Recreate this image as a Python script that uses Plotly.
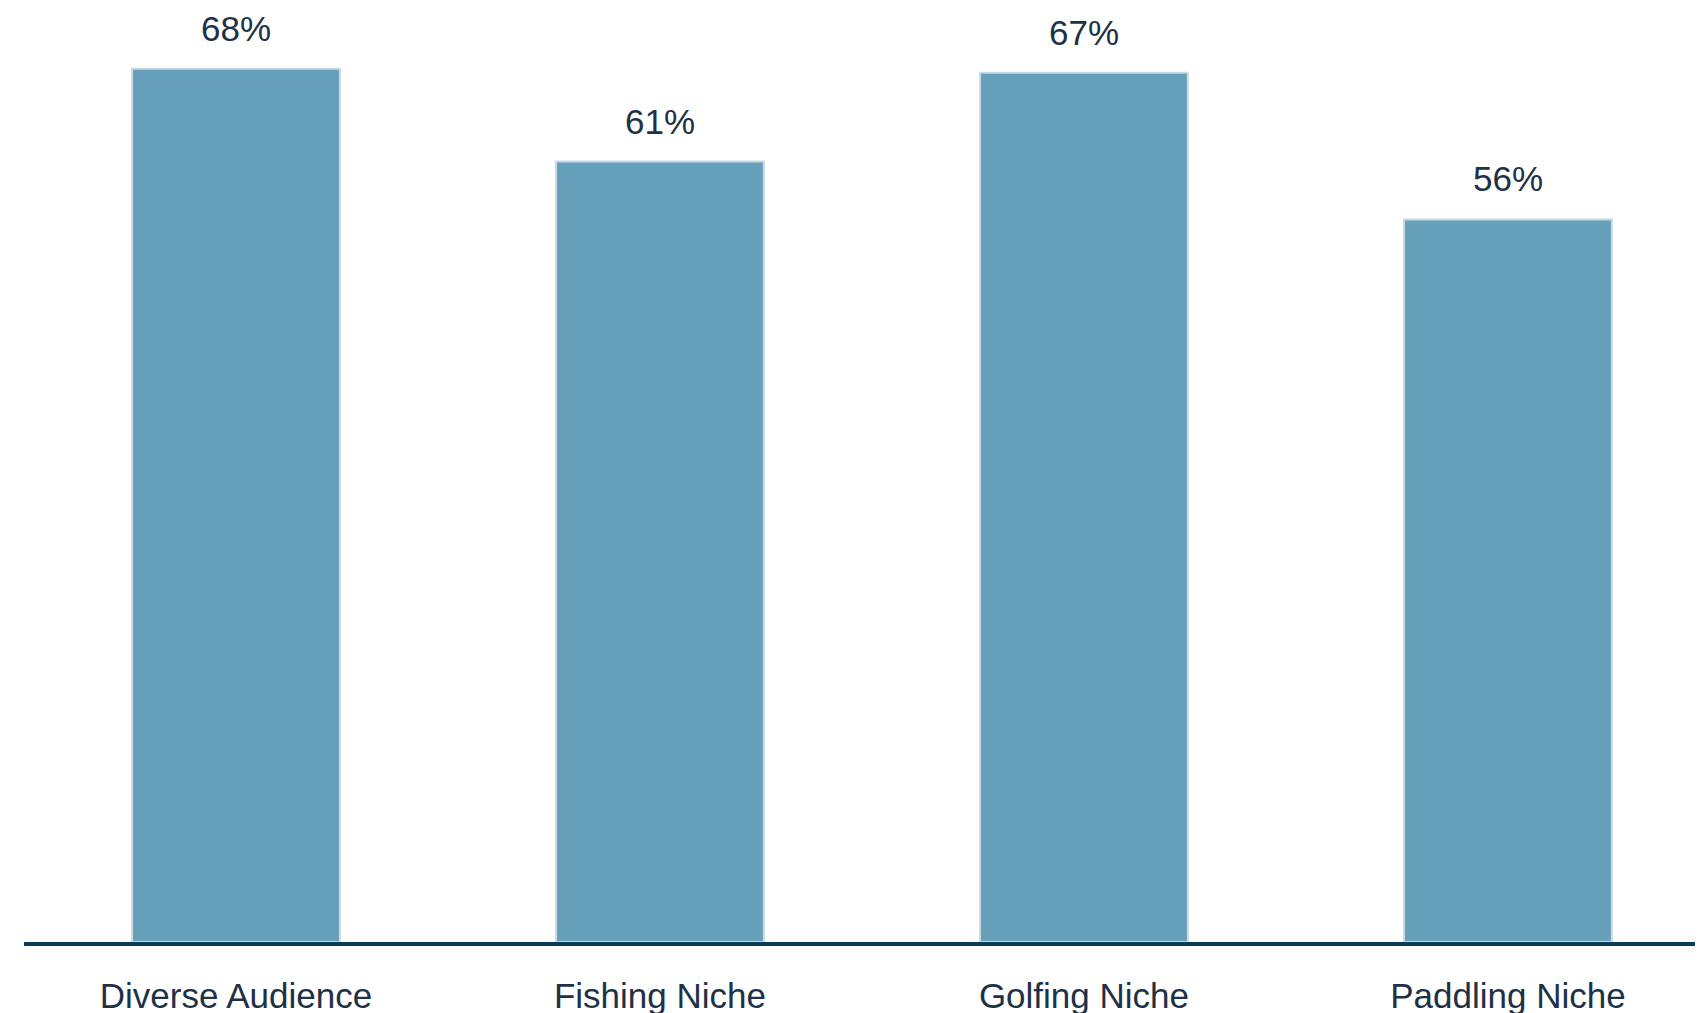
import plotly.graph_objects as go

categories = ["Diverse Audience", "Fishing Niche", "Golfing Niche", "Paddling Niche"]
values = [67.8, 60.6, 67.5, 56.1]
labels = ["68%", "61%", "67%", "56%"]

FONT = "Liberation Sans, Arial, sans-serif"
TXT = "#1e3147"

fig = go.Figure()
fig.add_trace(go.Bar(
    x=categories, y=values,
    marker=dict(color="#669fba", line=dict(color="#c6d9e3", width=2)),
    width=0.49,
    hoverinfo="skip",
))
for c, v, t in zip(categories, values, labels):
    fig.add_annotation(x=c, y=v, text=t, showarrow=False, yanchor="bottom",
                       yshift=19, font=dict(family=FONT, size=35, color=TXT))

fig.update_layout(
    width=1703, height=1013,
    margin=dict(l=16, r=0, t=0, b=79),
    paper_bgcolor="white", plot_bgcolor="white",
    showlegend=False,
    bargap=0.5,
    xaxis=dict(
        range=[-0.5, 3.479], showline=True, linewidth=4, linecolor="#0a3b58",
        ticks="outside", ticklen=20, tickcolor="rgba(0,0,0,0)", automargin=False,
        tickfont=dict(family=FONT, size=35, color=TXT), showgrid=False,
    ),
    yaxis=dict(range=[0, 72.52], visible=False, showgrid=False, automargin=False),
)
fig.write_html("out.html")
